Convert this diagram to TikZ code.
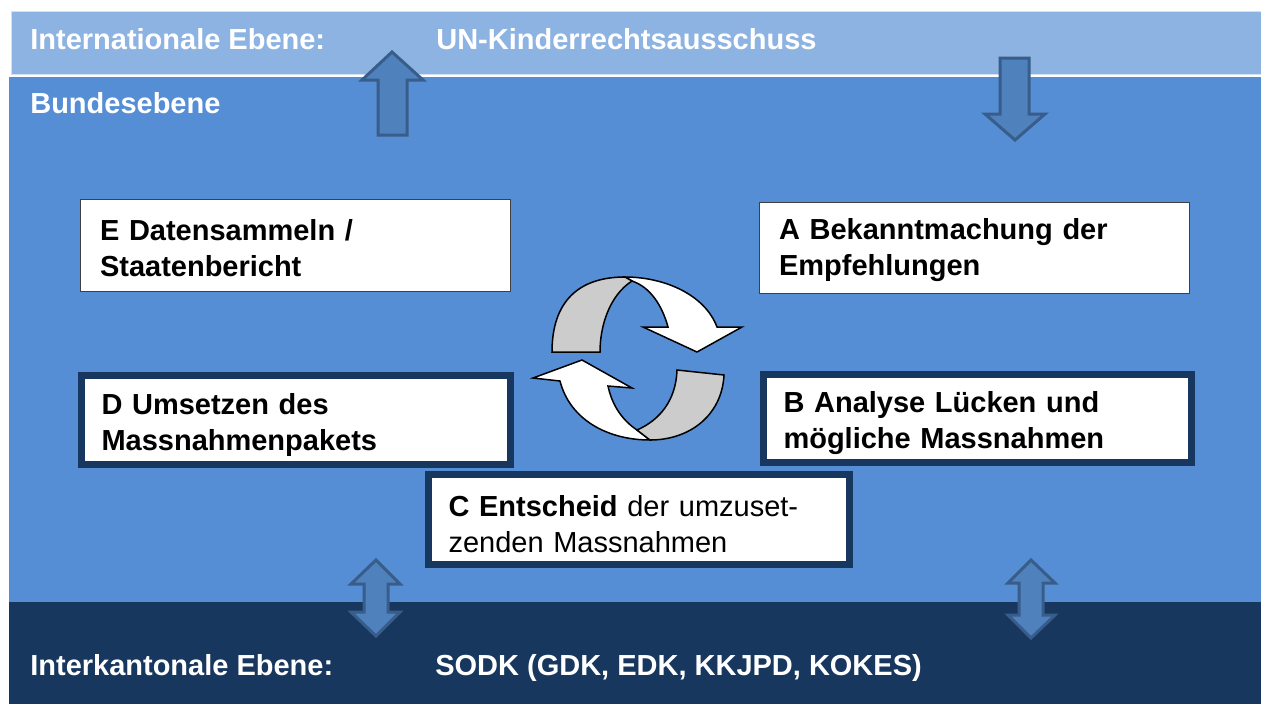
\documentclass[tikz,border=0pt]{standalone}
\usepackage{fontspec}
\setmainfont{Liberation Sans}
\usetikzlibrary{calc}
\usepackage{xcolor}
\definecolor{color8db3e2}{HTML}{8DB3E2}
\definecolor{color558ed5}{HTML}{558ED5}
\definecolor{color17375e}{HTML}{17375E}
\definecolor{color4f81bd}{HTML}{4F81BD}
\definecolor{color385d8a}{HTML}{385D8A}
\definecolor{colorcccccc}{HTML}{CCCCCC}

\begin{document}
\begin{tikzpicture}
    [x=0.02cm, y=-0.02cm,  % one unit = one pixel of the layout
     box_thin/.style={shape=rectangle, fill=white, draw=black!75, line width=0.02cm, inner xsep=0.4cm, align=left, font=\bfseries\fontsize{16.5}{20.5}\selectfont, execute at begin node={\rule{0pt}{14.5pt}}},
     box_thick/.style={box_thin, draw=color17375e, line width=0.14cm, execute at begin node={\rule{0pt}{17.5pt}}},
     level_text/.style={anchor=base west, inner sep=0pt, text=white, font=\bfseries\fontsize{16.5}{20}\selectfont},
     block_arrow/.style={fill=color4f81bd, draw=color385d8a, line width=0.06cm, line join=miter},
     ring_arrow/.style={draw=black, line width=0.03cm, line join=miter},
    ]
\useasboundingbox (0,0) rectangle (1261,704);

% levels
\fill[color8db3e2] (11,11) rectangle (1261,74);
\draw[white!60!color8db3e2, line width=0.02cm] (11,11) rectangle (1261,74);
\fill[color558ed5] (9,77) rectangle (1261,602);
\fill[color17375e] (9,602) rectangle (1261,704);

\node[level_text] (label_intl) at (30,49) {Internationale Ebene:};
\node[level_text] (label_un) at (436,49) {UN-Kinderrechtsausschuss};
\node[level_text] (label_bund) at (30,113) {Bundesebene};
\node[level_text] (label_inter) at (30,675) {Interkantonale Ebene:};
\node[level_text] (label_sodk) at (435,675) {SODK (GDK, EDK, KKJPD, KOKES)};

% cycle boxes
\node[box_thin, minimum width=8.62cm, minimum height=1.86cm, text width=7.82cm] (box_e) at (295.5,245.5) {E Datensammeln /\\Staatenbericht};
\node[box_thin, minimum width=8.62cm, minimum height=1.84cm, text width=7.82cm] (box_a) at (974.5,248) {A Bekanntmachung der\\Empfehlungen};
\node[box_thick, minimum width=8.58cm, minimum height=1.78cm, text width=7.78cm] (box_d) at (296,420) {D Umsetzen des\\Massnahmenpakets};
\node[box_thick, minimum width=8.56cm, minimum height=1.76cm, text width=7.76cm] (box_b) at (977.5,418.5) {B Analyse Lücken und\\mögliche Massnahmen};
\node[box_thick, minimum width=8.42cm, minimum height=1.8cm, text width=7.62cm, font=\mdseries\fontsize{16.5}{20.5}\selectfont] (box_c) at (639,519.5) {\textbf{C Entscheid} der umzuset-\\zenden Massnahmen};

% circular arrows
\draw[ring_arrow, fill=white] (625,277) .. controls (665,277) and (705,295) .. (717,327) -- (742,327) -- (697,352) -- (643,327) -- (668,327) .. controls (662,305) and (650,287) .. (632,281) -- cycle;
\draw[ring_arrow, fill=colorcccccc] (552,352) .. controls (552,302) and (578,277) .. (625,277) -- (632,281) .. controls (610,295) and (600,325) .. (600,352) -- cycle;
\draw[ring_arrow, fill=white] (650,440) .. controls (608,440) and (570,420) .. (560,381) -- (533,378) -- (582,360) -- (632,388) -- (608,386) .. controls (612,405) and (622,420) .. (637,430) -- cycle;
\draw[ring_arrow, fill=colorcccccc] (677,370) -- (724,375) .. controls (722,415) and (690,440) .. (650,440) -- (637,430) .. controls (660,420) and (676,400) .. (677,370) -- cycle;

% block arrows between the levels
\draw[block_arrow] (392,52) -- (423,80) -- (407,80) -- (407,135) -- (378,135) -- (378,80) -- (362,80) -- cycle;
\draw[block_arrow] (1000,58) -- (1029,58) -- (1029,114) -- (1045,114) -- (1015,140) -- (985,114) -- (1000,114) -- cycle;
\draw[block_arrow] (376,560) -- (400,584) -- (388,584) -- (388,612) -- (400,612) -- (376,636) -- (351,612) -- (364,612) -- (364,584) -- (351,584) -- cycle;
\draw[block_arrow] (1031,560) -- (1055,583) -- (1043,583) -- (1043,615) -- (1055,615) -- (1031,638) -- (1008,615) -- (1019,615) -- (1019,583) -- (1008,583) -- cycle;

\end{tikzpicture}
\end{document}
